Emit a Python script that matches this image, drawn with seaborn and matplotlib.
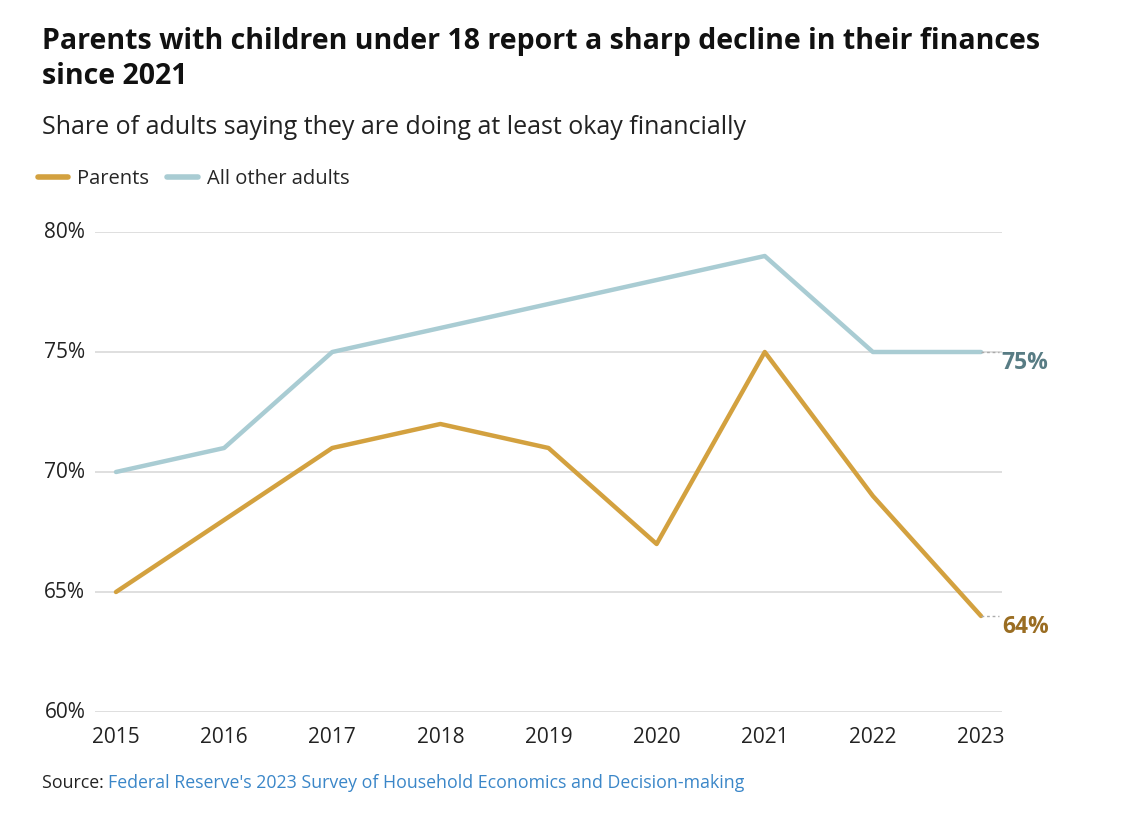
import matplotlib
matplotlib.use("Agg")
import matplotlib.pyplot as plt
import seaborn as sns
import pandas as pd
from matplotlib.lines import Line2D

years = [2015, 2016, 2017, 2018, 2019, 2020, 2021, 2022, 2023]
parents = [65, 68, 71, 72, 71, 67, 75, 69, 64]
others = [70, 71, 75, 76, 77, 78, 79, 75, 75]
series_names = ["Parents", "All other adults"]
y_ticks = [60, 65, 70, 75, 80]

col_par = "#D3A13F"
col_oth = "#A9CCD3"

df = pd.DataFrame({
    "year": years * 2,
    "value": parents + others,
    "group": [series_names[0]] * len(years) + [series_names[1]] * len(years),
})

sns.set_theme(style="white")
plt.rcParams["font.family"] = ["Open Sans", "DejaVu Sans"]

fig = plt.figure(figsize=(11.26, 8.3), dpi=100)
ax = fig.add_axes([95 / 1126, 1 - 712 / 830, (1002 - 95) / 1126, (712 - 232) / 830])

sns.lineplot(data=df, x="year", y="value", hue="group",
             palette={series_names[0]: col_par, series_names[1]: col_oth},
             hue_order=[series_names[1], series_names[0]],
             linewidth=3.2, ax=ax, legend=False)

ax.set_xlim(2014.806, 2023.194)
ax.set_ylim(60, 80)
ax.set_yticks(y_ticks)
ax.set_yticklabels([f"{v}%" for v in y_ticks])
ax.set_xticks(years)
ax.set_xticklabels([str(y) for y in years])
ax.set_xlabel("")
ax.set_ylabel("")
for s in ax.spines.values():
    s.set_visible(False)
ax.grid(axis="y", color="#D9D9D9", linewidth=1.2)
ax.set_axisbelow(True)
ax.tick_params(axis="both", length=0, labelsize=15, colors="#222222")
ax.tick_params(axis="y", pad=7)
ax.tick_params(axis="x", pad=11)
for lbl in ax.get_yticklabels():
    lbl.set_verticalalignment("center")

# end labels with small dotted leaders
for vals, col, tcol in [(others, col_oth, "#587C84"), (parents, col_par, "#9A6D22")]:
    ax.plot([years[-1], years[-1] + 0.17], [vals[-1], vals[-1]], ls=(0, (2, 2)),
            color="#AAAAAA", lw=1, clip_on=False)
    ax.annotate(f"{vals[-1]}%", xy=(years[-1], vals[-1]), xytext=(15, -8),
                textcoords="offset points", fontsize=16.5, fontweight="bold",
                color=tcol, va="center", ha="left", annotation_clip=False)

fig.text(42 / 1126, 1 - 27 / 830, "Parents with children under 18 report a sharp decline in their finances\nsince 2021",
         fontsize=20.5, fontweight="bold", color="#111111", va="top", ha="left", linespacing=1.25)
fig.text(42 / 1126, 1 - 127 / 830, "Share of adults saying they are doing at least okay financially",
         fontsize=18, color="#222222", va="center", ha="left")

handles = [Line2D([0], [0], color=col_par, lw=4), Line2D([0], [0], color=col_oth, lw=4)]
fig.legend(handles, series_names, loc="center left", bbox_to_anchor=(30 / 1126, 1 - 179 / 830),
           frameon=False, ncol=2, fontsize=14.5, handlelength=1.5, handletextpad=0.45,
           columnspacing=0.9, borderaxespad=0)

t1 = fig.text(42 / 1126, 1 - 783 / 830, "Source: ", fontsize=12.8, color="#222222", va="center", ha="left")
fig.canvas.draw()
bb = t1.get_window_extent()
fig.text(bb.x1 / 1126, 1 - 783 / 830, "Federal Reserve's 2023 Survey of Household Economics and Decision-making",
         fontsize=12.8, color="#3A86C8", va="center", ha="left")

fig.savefig("out.png", dpi=100)
